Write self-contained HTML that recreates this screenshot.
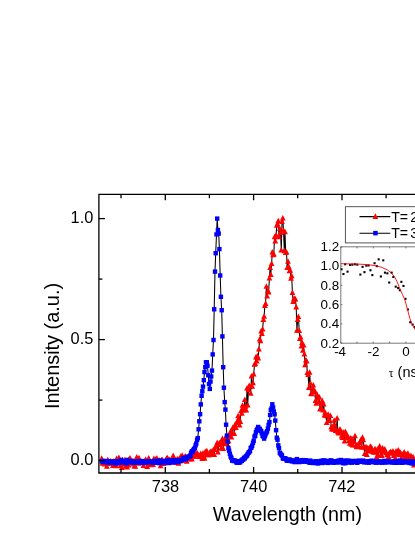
<!DOCTYPE html>
<html><head><meta charset="utf-8"><title>Spectrum</title>
<style>
html,body{margin:0;padding:0;background:#fff;}
body{width:415px;height:537px;overflow:hidden;}
svg{display:block;font-family:"Liberation Sans",sans-serif;will-change:transform;}
</style></head><body>
<svg width="415" height="537" viewBox="0 0 415 537">
<rect width="415" height="537" fill="#fff"/>
<g id="red">
<polyline points="101.7,458.4 102.5,463.4 103.2,462.2 104.0,461.3 104.7,464.1 105.5,462.3 106.2,462.3 106.9,466.3 107.7,459.9 108.4,460.9 109.2,463.7 109.9,462.7 110.7,461.1 111.4,462.9 112.2,462.8 112.9,465.6 113.6,461.0 114.4,462.0 115.1,461.6 115.9,465.8 116.6,458.5 117.4,461.9 118.1,463.2 118.9,457.6 119.6,462.4 120.4,465.6 121.1,463.2 121.8,467.5 122.6,459.8 123.3,463.2 124.1,464.0 124.8,459.8 125.6,466.0 126.3,461.0 127.1,467.0 127.8,463.8 128.5,465.0 129.3,458.9 130.0,458.2 130.8,463.0 131.5,460.3 132.3,462.6 133.0,460.9 133.8,464.0 134.5,466.1 135.3,466.4 136.0,461.3 136.7,457.0 137.5,461.6 138.2,463.4 139.0,457.8 139.7,461.7 140.5,462.0 141.2,461.6 142.0,462.5 142.7,462.9 143.4,465.5 144.2,461.0 144.9,462.4 145.7,459.4 146.4,463.0 147.2,466.5 147.9,462.4 148.7,458.2 149.4,463.0 150.2,464.1 150.9,464.8 151.6,464.5 152.4,462.7 153.1,464.7 153.9,458.5 154.6,462.6 155.4,461.7 156.1,458.6 156.9,458.4 157.6,462.3 158.3,461.0 159.1,460.1 159.8,462.2 160.6,465.8 161.3,460.1 162.1,459.6 162.8,460.6 163.6,463.7 164.3,461.9 165.1,462.8 165.8,462.1 166.5,458.4 167.3,457.8 168.0,459.7 168.8,459.9 169.5,459.6 170.3,461.1 171.0,461.1 171.8,462.4 172.5,460.9 173.2,455.5 174.0,458.6 174.7,461.3 175.5,461.5 176.2,462.3 177.0,459.4 177.7,459.2 178.5,463.3 179.2,458.8 180.0,461.1 180.7,456.3 181.4,459.1 182.2,455.3 182.9,460.3 183.7,459.7 184.4,458.1 185.2,456.1 185.9,457.1 186.7,461.3 187.4,457.6 188.1,457.8 188.9,458.7 189.6,459.1 190.4,452.9 191.1,458.0 191.9,459.0 192.6,455.0 193.4,456.1 194.1,456.4 194.9,454.0 195.6,454.5 196.3,454.6 197.1,452.8 197.8,454.4 198.6,456.5 199.3,455.6 200.1,455.8 200.8,453.6 201.6,456.8 202.3,458.7 203.0,453.2 203.8,456.9 204.5,458.3 205.3,451.7 206.0,454.5 206.8,450.9 207.5,453.5 208.3,454.8 209.0,454.9 209.8,452.6 210.5,451.6 211.2,452.9 212.0,451.1 212.7,454.4 213.5,449.6 214.2,454.5 215.0,449.5 215.7,446.6 216.5,445.0 217.2,442.7 217.9,452.1 218.7,444.7 219.4,442.9 220.2,443.1 220.9,448.4 221.7,443.7 222.4,438.6 223.2,448.5 223.9,441.6 224.7,438.9 225.4,443.9 226.1,438.9 226.9,443.5 227.6,441.7 228.4,440.8 229.1,436.3 229.9,436.2 230.6,431.4 231.4,437.0 232.1,432.9 232.8,427.7 233.6,427.9 234.3,433.6 235.1,424.6 235.8,427.5 236.6,422.6 237.3,421.3 238.1,415.9 238.8,418.7 239.6,425.1 240.3,421.5 241.0,410.8 241.8,413.3 242.5,405.4 243.3,407.3 244.0,410.1 244.8,399.7 245.5,406.4 246.3,410.2 247.0,388.2 247.7,405.0 248.5,389.9 249.2,385.6 250.0,386.7 250.7,393.4 251.5,376.1 252.2,386.3 253.0,382.8 253.7,374.2 254.5,364.4 255.2,363.7 255.9,357.2 256.7,361.1 257.4,355.8 258.2,358.0 258.9,349.0 259.7,339.1 260.4,340.8 261.2,331.2 261.9,333.7 262.6,329.1 263.4,319.7 264.1,316.4 264.9,305.5 265.6,303.5 266.4,286.4 267.1,296.2 267.9,290.9 268.6,292.1 269.4,278.2 270.1,267.5 270.8,274.5 271.6,263.6 272.3,252.0 273.1,254.9 273.8,254.2 274.6,236.9 275.3,241.2 276.1,235.1 276.8,225.4 277.5,223.8 278.3,220.9 279.0,236.8 279.8,228.5 280.5,232.6 281.3,250.2 282.0,221.6 282.8,218.0 283.5,230.4 284.3,250.9 285.0,231.8 285.7,252.7 286.5,252.1 287.2,267.7 288.0,261.3 288.7,266.5 289.5,270.8 290.2,270.3 291.0,278.3 291.7,275.9 292.4,292.6 293.2,301.7 293.9,298.8 294.7,298.7 295.4,299.0 296.2,307.1 296.9,330.4 297.7,319.7 298.4,316.7 299.2,330.7 299.9,338.7 300.6,337.1 301.4,346.2 302.1,342.6 302.9,350.4 303.6,345.2 304.4,354.2 305.1,364.8 305.9,360.1 306.6,361.1 307.3,372.6 308.1,374.5 308.8,387.5 309.6,372.4 310.3,383.0 311.1,393.6 311.8,393.9 312.6,388.1 313.3,385.2 314.1,391.7 314.8,390.9 315.5,400.5 316.3,403.4 317.0,394.3 317.8,397.8 318.5,401.8 319.3,397.2 320.0,409.0 320.8,408.0 321.5,402.8 322.2,400.6 323.0,410.1 323.7,404.0 324.5,415.2 325.2,412.4 326.0,415.7 326.7,422.7 327.5,416.1 328.2,414.3 329.0,419.8 329.7,420.5 330.4,415.5 331.2,427.1 331.9,429.0 332.7,426.5 333.4,429.4 334.2,420.4 334.9,425.3 335.7,430.5 336.4,430.4 337.1,418.0 337.9,431.8 338.6,433.1 339.4,429.8 340.1,429.3 340.9,431.5 341.6,436.2 342.4,437.7 343.1,432.0 343.9,434.9 344.6,441.0 345.3,431.7 346.1,433.7 346.8,437.7 347.6,438.2 348.3,437.0 349.1,440.6 349.8,443.3 350.6,438.1 351.3,444.4 352.0,438.7 352.8,445.2 353.5,441.1 354.3,441.6 355.0,435.8 355.8,445.4 356.5,446.9 357.3,444.8 358.0,446.7 358.8,445.4 359.5,442.6 360.2,441.9 361.0,439.6 361.7,447.4 362.5,437.4 363.2,439.9 364.0,446.9 364.7,453.7 365.5,447.3 366.2,447.2 366.9,454.6 367.7,447.9 368.4,449.0 369.2,451.0 369.9,447.1 370.7,446.3 371.4,450.9 372.2,449.0 372.9,451.7 373.7,452.3 374.4,449.9 375.1,448.8 375.9,452.1 376.6,456.9 377.4,449.1 378.1,455.4 378.9,450.6 379.6,446.0 380.4,451.2 381.1,454.7 381.8,455.5 382.6,448.2 383.3,451.7 384.1,450.2 384.8,449.2 385.6,452.1 386.3,452.9 387.1,454.8 387.8,460.8 388.6,456.6 389.3,452.7 390.0,453.1 390.8,451.6 391.5,453.2 392.3,452.6 393.0,451.0 393.8,455.7 394.5,454.3 395.3,458.0 396.0,451.2 396.7,453.9 397.5,452.8 398.2,450.2 399.0,451.6 399.7,454.8 400.5,452.7 401.2,458.8 402.0,454.0 402.7,455.0 403.5,459.7 404.2,452.2 404.9,457.7 405.7,454.3 406.4,457.4 407.2,454.0 407.9,453.4 408.7,459.0 409.4,461.0 410.2,457.7 410.9,455.5 411.6,458.7 412.4,459.5 413.1,456.9 413.9,465.0 414.6,460.0 415.4,461.9 416.1,458.0" fill="none" stroke="#000" stroke-width="1.05"/>
<g fill="#ff0000"><path d="M101.7 455.3l2.9 5.5h-5.8z"/><path d="M102.5 460.3l2.9 5.5h-5.8z"/><path d="M103.2 459.1l2.9 5.5h-5.8z"/><path d="M104.0 458.2l2.9 5.5h-5.8z"/><path d="M104.7 461.0l2.9 5.5h-5.8z"/><path d="M105.5 459.2l2.9 5.5h-5.8z"/><path d="M106.2 459.2l2.9 5.5h-5.8z"/><path d="M106.9 463.2l2.9 5.5h-5.8z"/><path d="M107.7 456.8l2.9 5.5h-5.8z"/><path d="M108.4 457.8l2.9 5.5h-5.8z"/><path d="M109.2 460.6l2.9 5.5h-5.8z"/><path d="M109.9 459.6l2.9 5.5h-5.8z"/><path d="M110.7 458.0l2.9 5.5h-5.8z"/><path d="M111.4 459.8l2.9 5.5h-5.8z"/><path d="M112.2 459.7l2.9 5.5h-5.8z"/><path d="M112.9 462.5l2.9 5.5h-5.8z"/><path d="M113.6 457.9l2.9 5.5h-5.8z"/><path d="M114.4 458.9l2.9 5.5h-5.8z"/><path d="M115.1 458.5l2.9 5.5h-5.8z"/><path d="M115.9 462.7l2.9 5.5h-5.8z"/><path d="M116.6 455.4l2.9 5.5h-5.8z"/><path d="M117.4 458.8l2.9 5.5h-5.8z"/><path d="M118.1 460.1l2.9 5.5h-5.8z"/><path d="M118.9 454.5l2.9 5.5h-5.8z"/><path d="M119.6 459.3l2.9 5.5h-5.8z"/><path d="M120.4 462.5l2.9 5.5h-5.8z"/><path d="M121.1 460.1l2.9 5.5h-5.8z"/><path d="M121.8 464.4l2.9 5.5h-5.8z"/><path d="M122.6 456.7l2.9 5.5h-5.8z"/><path d="M123.3 460.1l2.9 5.5h-5.8z"/><path d="M124.1 460.9l2.9 5.5h-5.8z"/><path d="M124.8 456.7l2.9 5.5h-5.8z"/><path d="M125.6 462.9l2.9 5.5h-5.8z"/><path d="M126.3 457.9l2.9 5.5h-5.8z"/><path d="M127.1 463.9l2.9 5.5h-5.8z"/><path d="M127.8 460.7l2.9 5.5h-5.8z"/><path d="M128.5 461.9l2.9 5.5h-5.8z"/><path d="M129.3 455.8l2.9 5.5h-5.8z"/><path d="M130.0 455.1l2.9 5.5h-5.8z"/><path d="M130.8 459.9l2.9 5.5h-5.8z"/><path d="M131.5 457.2l2.9 5.5h-5.8z"/><path d="M132.3 459.5l2.9 5.5h-5.8z"/><path d="M133.0 457.8l2.9 5.5h-5.8z"/><path d="M133.8 460.9l2.9 5.5h-5.8z"/><path d="M134.5 463.0l2.9 5.5h-5.8z"/><path d="M135.3 463.3l2.9 5.5h-5.8z"/><path d="M136.0 458.2l2.9 5.5h-5.8z"/><path d="M136.7 453.9l2.9 5.5h-5.8z"/><path d="M137.5 458.5l2.9 5.5h-5.8z"/><path d="M138.2 460.3l2.9 5.5h-5.8z"/><path d="M139.0 454.7l2.9 5.5h-5.8z"/><path d="M139.7 458.6l2.9 5.5h-5.8z"/><path d="M140.5 458.9l2.9 5.5h-5.8z"/><path d="M141.2 458.5l2.9 5.5h-5.8z"/><path d="M142.0 459.4l2.9 5.5h-5.8z"/><path d="M142.7 459.8l2.9 5.5h-5.8z"/><path d="M143.4 462.4l2.9 5.5h-5.8z"/><path d="M144.2 457.9l2.9 5.5h-5.8z"/><path d="M144.9 459.3l2.9 5.5h-5.8z"/><path d="M145.7 456.3l2.9 5.5h-5.8z"/><path d="M146.4 459.9l2.9 5.5h-5.8z"/><path d="M147.2 463.4l2.9 5.5h-5.8z"/><path d="M147.9 459.3l2.9 5.5h-5.8z"/><path d="M148.7 455.1l2.9 5.5h-5.8z"/><path d="M149.4 459.9l2.9 5.5h-5.8z"/><path d="M150.2 461.0l2.9 5.5h-5.8z"/><path d="M150.9 461.7l2.9 5.5h-5.8z"/><path d="M151.6 461.4l2.9 5.5h-5.8z"/><path d="M152.4 459.6l2.9 5.5h-5.8z"/><path d="M153.1 461.6l2.9 5.5h-5.8z"/><path d="M153.9 455.4l2.9 5.5h-5.8z"/><path d="M154.6 459.5l2.9 5.5h-5.8z"/><path d="M155.4 458.6l2.9 5.5h-5.8z"/><path d="M156.1 455.5l2.9 5.5h-5.8z"/><path d="M156.9 455.3l2.9 5.5h-5.8z"/><path d="M157.6 459.2l2.9 5.5h-5.8z"/><path d="M158.3 457.9l2.9 5.5h-5.8z"/><path d="M159.1 457.0l2.9 5.5h-5.8z"/><path d="M159.8 459.1l2.9 5.5h-5.8z"/><path d="M160.6 462.7l2.9 5.5h-5.8z"/><path d="M161.3 457.0l2.9 5.5h-5.8z"/><path d="M162.1 456.5l2.9 5.5h-5.8z"/><path d="M162.8 457.5l2.9 5.5h-5.8z"/><path d="M163.6 460.6l2.9 5.5h-5.8z"/><path d="M164.3 458.8l2.9 5.5h-5.8z"/><path d="M165.1 459.7l2.9 5.5h-5.8z"/><path d="M165.8 459.0l2.9 5.5h-5.8z"/><path d="M166.5 455.3l2.9 5.5h-5.8z"/><path d="M167.3 454.7l2.9 5.5h-5.8z"/><path d="M168.0 456.6l2.9 5.5h-5.8z"/><path d="M168.8 456.8l2.9 5.5h-5.8z"/><path d="M169.5 456.5l2.9 5.5h-5.8z"/><path d="M170.3 458.0l2.9 5.5h-5.8z"/><path d="M171.0 458.0l2.9 5.5h-5.8z"/><path d="M171.8 459.3l2.9 5.5h-5.8z"/><path d="M172.5 457.8l2.9 5.5h-5.8z"/><path d="M173.2 452.4l2.9 5.5h-5.8z"/><path d="M174.0 455.5l2.9 5.5h-5.8z"/><path d="M174.7 458.2l2.9 5.5h-5.8z"/><path d="M175.5 458.4l2.9 5.5h-5.8z"/><path d="M176.2 459.2l2.9 5.5h-5.8z"/><path d="M177.0 456.3l2.9 5.5h-5.8z"/><path d="M177.7 456.1l2.9 5.5h-5.8z"/><path d="M178.5 460.2l2.9 5.5h-5.8z"/><path d="M179.2 455.7l2.9 5.5h-5.8z"/><path d="M180.0 458.0l2.9 5.5h-5.8z"/><path d="M180.7 453.2l2.9 5.5h-5.8z"/><path d="M181.4 456.0l2.9 5.5h-5.8z"/><path d="M182.2 452.2l2.9 5.5h-5.8z"/><path d="M182.9 457.2l2.9 5.5h-5.8z"/><path d="M183.7 456.6l2.9 5.5h-5.8z"/><path d="M184.4 455.0l2.9 5.5h-5.8z"/><path d="M185.2 453.0l2.9 5.5h-5.8z"/><path d="M185.9 454.0l2.9 5.5h-5.8z"/><path d="M186.7 458.2l2.9 5.5h-5.8z"/><path d="M187.4 454.5l2.9 5.5h-5.8z"/><path d="M188.1 454.7l2.9 5.5h-5.8z"/><path d="M188.9 455.6l2.9 5.5h-5.8z"/><path d="M189.6 456.0l2.9 5.5h-5.8z"/><path d="M190.4 449.8l2.9 5.5h-5.8z"/><path d="M191.1 454.9l2.9 5.5h-5.8z"/><path d="M191.9 455.9l2.9 5.5h-5.8z"/><path d="M192.6 451.9l2.9 5.5h-5.8z"/><path d="M193.4 453.0l2.9 5.5h-5.8z"/><path d="M194.1 453.3l2.9 5.5h-5.8z"/><path d="M194.9 450.9l2.9 5.5h-5.8z"/><path d="M195.6 451.4l2.9 5.5h-5.8z"/><path d="M196.3 451.5l2.9 5.5h-5.8z"/><path d="M197.1 449.7l2.9 5.5h-5.8z"/><path d="M197.8 451.3l2.9 5.5h-5.8z"/><path d="M198.6 453.4l2.9 5.5h-5.8z"/><path d="M199.3 452.5l2.9 5.5h-5.8z"/><path d="M200.1 452.7l2.9 5.5h-5.8z"/><path d="M200.8 450.5l2.9 5.5h-5.8z"/><path d="M201.6 453.7l2.9 5.5h-5.8z"/><path d="M202.3 455.6l2.9 5.5h-5.8z"/><path d="M203.0 450.1l2.9 5.5h-5.8z"/><path d="M203.8 453.8l2.9 5.5h-5.8z"/><path d="M204.5 455.2l2.9 5.5h-5.8z"/><path d="M205.3 448.6l2.9 5.5h-5.8z"/><path d="M206.0 451.4l2.9 5.5h-5.8z"/><path d="M206.8 447.8l2.9 5.5h-5.8z"/><path d="M207.5 450.4l2.9 5.5h-5.8z"/><path d="M208.3 451.7l2.9 5.5h-5.8z"/><path d="M209.0 451.8l2.9 5.5h-5.8z"/><path d="M209.8 449.5l2.9 5.5h-5.8z"/><path d="M210.5 448.5l2.9 5.5h-5.8z"/><path d="M211.2 449.8l2.9 5.5h-5.8z"/><path d="M212.0 448.0l2.9 5.5h-5.8z"/><path d="M212.7 451.3l2.9 5.5h-5.8z"/><path d="M213.5 446.5l2.9 5.5h-5.8z"/><path d="M214.2 451.4l2.9 5.5h-5.8z"/><path d="M215.0 446.4l2.9 5.5h-5.8z"/><path d="M215.7 443.5l2.9 5.5h-5.8z"/><path d="M216.5 441.9l2.9 5.5h-5.8z"/><path d="M217.2 439.6l2.9 5.5h-5.8z"/><path d="M217.9 449.0l2.9 5.5h-5.8z"/><path d="M218.7 441.6l2.9 5.5h-5.8z"/><path d="M219.4 439.8l2.9 5.5h-5.8z"/><path d="M220.2 440.0l2.9 5.5h-5.8z"/><path d="M220.9 445.3l2.9 5.5h-5.8z"/><path d="M221.7 440.6l2.9 5.5h-5.8z"/><path d="M222.4 435.5l2.9 5.5h-5.8z"/><path d="M223.2 445.4l2.9 5.5h-5.8z"/><path d="M223.9 438.5l2.9 5.5h-5.8z"/><path d="M224.7 435.8l2.9 5.5h-5.8z"/><path d="M225.4 440.8l2.9 5.5h-5.8z"/><path d="M226.1 435.8l2.9 5.5h-5.8z"/><path d="M226.9 440.4l2.9 5.5h-5.8z"/><path d="M227.6 438.6l2.9 5.5h-5.8z"/><path d="M228.4 437.7l2.9 5.5h-5.8z"/><path d="M229.1 433.2l2.9 5.5h-5.8z"/><path d="M229.9 433.1l2.9 5.5h-5.8z"/><path d="M230.6 428.3l2.9 5.5h-5.8z"/><path d="M231.4 433.9l2.9 5.5h-5.8z"/><path d="M232.1 429.8l2.9 5.5h-5.8z"/><path d="M232.8 424.6l2.9 5.5h-5.8z"/><path d="M233.6 424.8l2.9 5.5h-5.8z"/><path d="M234.3 430.5l2.9 5.5h-5.8z"/><path d="M235.1 421.5l2.9 5.5h-5.8z"/><path d="M235.8 424.4l2.9 5.5h-5.8z"/><path d="M236.6 419.5l2.9 5.5h-5.8z"/><path d="M237.3 418.2l2.9 5.5h-5.8z"/><path d="M238.1 412.8l2.9 5.5h-5.8z"/><path d="M238.8 415.6l2.9 5.5h-5.8z"/><path d="M239.6 422.0l2.9 5.5h-5.8z"/><path d="M240.3 418.4l2.9 5.5h-5.8z"/><path d="M241.0 407.7l2.9 5.5h-5.8z"/><path d="M241.8 410.2l2.9 5.5h-5.8z"/><path d="M242.5 402.3l2.9 5.5h-5.8z"/><path d="M243.3 404.2l2.9 5.5h-5.8z"/><path d="M244.0 407.0l2.9 5.5h-5.8z"/><path d="M244.8 396.6l2.9 5.5h-5.8z"/><path d="M245.5 403.3l2.9 5.5h-5.8z"/><path d="M246.3 407.1l2.9 5.5h-5.8z"/><path d="M247.0 385.1l2.9 5.5h-5.8z"/><path d="M247.7 401.9l2.9 5.5h-5.8z"/><path d="M248.5 386.8l2.9 5.5h-5.8z"/><path d="M249.2 382.5l2.9 5.5h-5.8z"/><path d="M250.0 383.6l2.9 5.5h-5.8z"/><path d="M250.7 390.3l2.9 5.5h-5.8z"/><path d="M251.5 373.0l2.9 5.5h-5.8z"/><path d="M252.2 383.2l2.9 5.5h-5.8z"/><path d="M253.0 379.7l2.9 5.5h-5.8z"/><path d="M253.7 371.1l2.9 5.5h-5.8z"/><path d="M254.5 361.3l2.9 5.5h-5.8z"/><path d="M255.2 360.6l2.9 5.5h-5.8z"/><path d="M255.9 354.1l2.9 5.5h-5.8z"/><path d="M256.7 358.0l2.9 5.5h-5.8z"/><path d="M257.4 352.7l2.9 5.5h-5.8z"/><path d="M258.2 354.9l2.9 5.5h-5.8z"/><path d="M258.9 345.9l2.9 5.5h-5.8z"/><path d="M259.7 336.0l2.9 5.5h-5.8z"/><path d="M260.4 337.7l2.9 5.5h-5.8z"/><path d="M261.2 328.1l2.9 5.5h-5.8z"/><path d="M261.9 330.6l2.9 5.5h-5.8z"/><path d="M262.6 326.0l2.9 5.5h-5.8z"/><path d="M263.4 316.6l2.9 5.5h-5.8z"/><path d="M264.1 313.3l2.9 5.5h-5.8z"/><path d="M264.9 302.4l2.9 5.5h-5.8z"/><path d="M265.6 300.4l2.9 5.5h-5.8z"/><path d="M266.4 283.3l2.9 5.5h-5.8z"/><path d="M267.1 293.1l2.9 5.5h-5.8z"/><path d="M267.9 287.8l2.9 5.5h-5.8z"/><path d="M268.6 289.0l2.9 5.5h-5.8z"/><path d="M269.4 275.1l2.9 5.5h-5.8z"/><path d="M270.1 264.4l2.9 5.5h-5.8z"/><path d="M270.8 271.4l2.9 5.5h-5.8z"/><path d="M271.6 260.5l2.9 5.5h-5.8z"/><path d="M272.3 248.9l2.9 5.5h-5.8z"/><path d="M273.1 251.8l2.9 5.5h-5.8z"/><path d="M273.8 251.1l2.9 5.5h-5.8z"/><path d="M274.6 233.8l2.9 5.5h-5.8z"/><path d="M275.3 238.1l2.9 5.5h-5.8z"/><path d="M276.1 232.0l2.9 5.5h-5.8z"/><path d="M276.8 222.3l2.9 5.5h-5.8z"/><path d="M277.5 220.7l2.9 5.5h-5.8z"/><path d="M278.3 217.8l2.9 5.5h-5.8z"/><path d="M279.0 233.7l2.9 5.5h-5.8z"/><path d="M279.8 225.4l2.9 5.5h-5.8z"/><path d="M280.5 229.5l2.9 5.5h-5.8z"/><path d="M281.3 247.1l2.9 5.5h-5.8z"/><path d="M282.0 218.5l2.9 5.5h-5.8z"/><path d="M282.8 214.9l2.9 5.5h-5.8z"/><path d="M283.5 227.3l2.9 5.5h-5.8z"/><path d="M284.3 247.8l2.9 5.5h-5.8z"/><path d="M285.0 228.7l2.9 5.5h-5.8z"/><path d="M285.7 249.6l2.9 5.5h-5.8z"/><path d="M286.5 249.0l2.9 5.5h-5.8z"/><path d="M287.2 264.6l2.9 5.5h-5.8z"/><path d="M288.0 258.2l2.9 5.5h-5.8z"/><path d="M288.7 263.4l2.9 5.5h-5.8z"/><path d="M289.5 267.7l2.9 5.5h-5.8z"/><path d="M290.2 267.2l2.9 5.5h-5.8z"/><path d="M291.0 275.2l2.9 5.5h-5.8z"/><path d="M291.7 272.8l2.9 5.5h-5.8z"/><path d="M292.4 289.5l2.9 5.5h-5.8z"/><path d="M293.2 298.6l2.9 5.5h-5.8z"/><path d="M293.9 295.7l2.9 5.5h-5.8z"/><path d="M294.7 295.6l2.9 5.5h-5.8z"/><path d="M295.4 295.9l2.9 5.5h-5.8z"/><path d="M296.2 304.0l2.9 5.5h-5.8z"/><path d="M296.9 327.3l2.9 5.5h-5.8z"/><path d="M297.7 316.6l2.9 5.5h-5.8z"/><path d="M298.4 313.6l2.9 5.5h-5.8z"/><path d="M299.2 327.6l2.9 5.5h-5.8z"/><path d="M299.9 335.6l2.9 5.5h-5.8z"/><path d="M300.6 334.0l2.9 5.5h-5.8z"/><path d="M301.4 343.1l2.9 5.5h-5.8z"/><path d="M302.1 339.5l2.9 5.5h-5.8z"/><path d="M302.9 347.3l2.9 5.5h-5.8z"/><path d="M303.6 342.1l2.9 5.5h-5.8z"/><path d="M304.4 351.1l2.9 5.5h-5.8z"/><path d="M305.1 361.7l2.9 5.5h-5.8z"/><path d="M305.9 357.0l2.9 5.5h-5.8z"/><path d="M306.6 358.0l2.9 5.5h-5.8z"/><path d="M307.3 369.5l2.9 5.5h-5.8z"/><path d="M308.1 371.4l2.9 5.5h-5.8z"/><path d="M308.8 384.4l2.9 5.5h-5.8z"/><path d="M309.6 369.3l2.9 5.5h-5.8z"/><path d="M310.3 379.9l2.9 5.5h-5.8z"/><path d="M311.1 390.5l2.9 5.5h-5.8z"/><path d="M311.8 390.8l2.9 5.5h-5.8z"/><path d="M312.6 385.0l2.9 5.5h-5.8z"/><path d="M313.3 382.1l2.9 5.5h-5.8z"/><path d="M314.1 388.6l2.9 5.5h-5.8z"/><path d="M314.8 387.8l2.9 5.5h-5.8z"/><path d="M315.5 397.4l2.9 5.5h-5.8z"/><path d="M316.3 400.3l2.9 5.5h-5.8z"/><path d="M317.0 391.2l2.9 5.5h-5.8z"/><path d="M317.8 394.7l2.9 5.5h-5.8z"/><path d="M318.5 398.7l2.9 5.5h-5.8z"/><path d="M319.3 394.1l2.9 5.5h-5.8z"/><path d="M320.0 405.9l2.9 5.5h-5.8z"/><path d="M320.8 404.9l2.9 5.5h-5.8z"/><path d="M321.5 399.7l2.9 5.5h-5.8z"/><path d="M322.2 397.5l2.9 5.5h-5.8z"/><path d="M323.0 407.0l2.9 5.5h-5.8z"/><path d="M323.7 400.9l2.9 5.5h-5.8z"/><path d="M324.5 412.1l2.9 5.5h-5.8z"/><path d="M325.2 409.3l2.9 5.5h-5.8z"/><path d="M326.0 412.6l2.9 5.5h-5.8z"/><path d="M326.7 419.6l2.9 5.5h-5.8z"/><path d="M327.5 413.0l2.9 5.5h-5.8z"/><path d="M328.2 411.2l2.9 5.5h-5.8z"/><path d="M329.0 416.7l2.9 5.5h-5.8z"/><path d="M329.7 417.4l2.9 5.5h-5.8z"/><path d="M330.4 412.4l2.9 5.5h-5.8z"/><path d="M331.2 424.0l2.9 5.5h-5.8z"/><path d="M331.9 425.9l2.9 5.5h-5.8z"/><path d="M332.7 423.4l2.9 5.5h-5.8z"/><path d="M333.4 426.3l2.9 5.5h-5.8z"/><path d="M334.2 417.3l2.9 5.5h-5.8z"/><path d="M334.9 422.2l2.9 5.5h-5.8z"/><path d="M335.7 427.4l2.9 5.5h-5.8z"/><path d="M336.4 427.3l2.9 5.5h-5.8z"/><path d="M337.1 414.9l2.9 5.5h-5.8z"/><path d="M337.9 428.7l2.9 5.5h-5.8z"/><path d="M338.6 430.0l2.9 5.5h-5.8z"/><path d="M339.4 426.7l2.9 5.5h-5.8z"/><path d="M340.1 426.2l2.9 5.5h-5.8z"/><path d="M340.9 428.4l2.9 5.5h-5.8z"/><path d="M341.6 433.1l2.9 5.5h-5.8z"/><path d="M342.4 434.6l2.9 5.5h-5.8z"/><path d="M343.1 428.9l2.9 5.5h-5.8z"/><path d="M343.9 431.8l2.9 5.5h-5.8z"/><path d="M344.6 437.9l2.9 5.5h-5.8z"/><path d="M345.3 428.6l2.9 5.5h-5.8z"/><path d="M346.1 430.6l2.9 5.5h-5.8z"/><path d="M346.8 434.6l2.9 5.5h-5.8z"/><path d="M347.6 435.1l2.9 5.5h-5.8z"/><path d="M348.3 433.9l2.9 5.5h-5.8z"/><path d="M349.1 437.5l2.9 5.5h-5.8z"/><path d="M349.8 440.2l2.9 5.5h-5.8z"/><path d="M350.6 435.0l2.9 5.5h-5.8z"/><path d="M351.3 441.3l2.9 5.5h-5.8z"/><path d="M352.0 435.6l2.9 5.5h-5.8z"/><path d="M352.8 442.1l2.9 5.5h-5.8z"/><path d="M353.5 438.0l2.9 5.5h-5.8z"/><path d="M354.3 438.5l2.9 5.5h-5.8z"/><path d="M355.0 432.7l2.9 5.5h-5.8z"/><path d="M355.8 442.3l2.9 5.5h-5.8z"/><path d="M356.5 443.8l2.9 5.5h-5.8z"/><path d="M357.3 441.7l2.9 5.5h-5.8z"/><path d="M358.0 443.6l2.9 5.5h-5.8z"/><path d="M358.8 442.3l2.9 5.5h-5.8z"/><path d="M359.5 439.5l2.9 5.5h-5.8z"/><path d="M360.2 438.8l2.9 5.5h-5.8z"/><path d="M361.0 436.5l2.9 5.5h-5.8z"/><path d="M361.7 444.3l2.9 5.5h-5.8z"/><path d="M362.5 434.3l2.9 5.5h-5.8z"/><path d="M363.2 436.8l2.9 5.5h-5.8z"/><path d="M364.0 443.8l2.9 5.5h-5.8z"/><path d="M364.7 450.6l2.9 5.5h-5.8z"/><path d="M365.5 444.2l2.9 5.5h-5.8z"/><path d="M366.2 444.1l2.9 5.5h-5.8z"/><path d="M366.9 451.5l2.9 5.5h-5.8z"/><path d="M367.7 444.8l2.9 5.5h-5.8z"/><path d="M368.4 445.9l2.9 5.5h-5.8z"/><path d="M369.2 447.9l2.9 5.5h-5.8z"/><path d="M369.9 444.0l2.9 5.5h-5.8z"/><path d="M370.7 443.2l2.9 5.5h-5.8z"/><path d="M371.4 447.8l2.9 5.5h-5.8z"/><path d="M372.2 445.9l2.9 5.5h-5.8z"/><path d="M372.9 448.6l2.9 5.5h-5.8z"/><path d="M373.7 449.2l2.9 5.5h-5.8z"/><path d="M374.4 446.8l2.9 5.5h-5.8z"/><path d="M375.1 445.7l2.9 5.5h-5.8z"/><path d="M375.9 449.0l2.9 5.5h-5.8z"/><path d="M376.6 453.8l2.9 5.5h-5.8z"/><path d="M377.4 446.0l2.9 5.5h-5.8z"/><path d="M378.1 452.3l2.9 5.5h-5.8z"/><path d="M378.9 447.5l2.9 5.5h-5.8z"/><path d="M379.6 442.9l2.9 5.5h-5.8z"/><path d="M380.4 448.1l2.9 5.5h-5.8z"/><path d="M381.1 451.6l2.9 5.5h-5.8z"/><path d="M381.8 452.4l2.9 5.5h-5.8z"/><path d="M382.6 445.1l2.9 5.5h-5.8z"/><path d="M383.3 448.6l2.9 5.5h-5.8z"/><path d="M384.1 447.1l2.9 5.5h-5.8z"/><path d="M384.8 446.1l2.9 5.5h-5.8z"/><path d="M385.6 449.0l2.9 5.5h-5.8z"/><path d="M386.3 449.8l2.9 5.5h-5.8z"/><path d="M387.1 451.7l2.9 5.5h-5.8z"/><path d="M387.8 457.7l2.9 5.5h-5.8z"/><path d="M388.6 453.5l2.9 5.5h-5.8z"/><path d="M389.3 449.6l2.9 5.5h-5.8z"/><path d="M390.0 450.0l2.9 5.5h-5.8z"/><path d="M390.8 448.5l2.9 5.5h-5.8z"/><path d="M391.5 450.1l2.9 5.5h-5.8z"/><path d="M392.3 449.5l2.9 5.5h-5.8z"/><path d="M393.0 447.9l2.9 5.5h-5.8z"/><path d="M393.8 452.6l2.9 5.5h-5.8z"/><path d="M394.5 451.2l2.9 5.5h-5.8z"/><path d="M395.3 454.9l2.9 5.5h-5.8z"/><path d="M396.0 448.1l2.9 5.5h-5.8z"/><path d="M396.7 450.8l2.9 5.5h-5.8z"/><path d="M397.5 449.7l2.9 5.5h-5.8z"/><path d="M398.2 447.1l2.9 5.5h-5.8z"/><path d="M399.0 448.5l2.9 5.5h-5.8z"/><path d="M399.7 451.7l2.9 5.5h-5.8z"/><path d="M400.5 449.6l2.9 5.5h-5.8z"/><path d="M401.2 455.7l2.9 5.5h-5.8z"/><path d="M402.0 450.9l2.9 5.5h-5.8z"/><path d="M402.7 451.9l2.9 5.5h-5.8z"/><path d="M403.5 456.6l2.9 5.5h-5.8z"/><path d="M404.2 449.1l2.9 5.5h-5.8z"/><path d="M404.9 454.6l2.9 5.5h-5.8z"/><path d="M405.7 451.2l2.9 5.5h-5.8z"/><path d="M406.4 454.3l2.9 5.5h-5.8z"/><path d="M407.2 450.9l2.9 5.5h-5.8z"/><path d="M407.9 450.3l2.9 5.5h-5.8z"/><path d="M408.7 455.9l2.9 5.5h-5.8z"/><path d="M409.4 457.9l2.9 5.5h-5.8z"/><path d="M410.2 454.6l2.9 5.5h-5.8z"/><path d="M410.9 452.4l2.9 5.5h-5.8z"/><path d="M411.6 455.6l2.9 5.5h-5.8z"/><path d="M412.4 456.4l2.9 5.5h-5.8z"/><path d="M413.1 453.8l2.9 5.5h-5.8z"/><path d="M413.9 461.9l2.9 5.5h-5.8z"/><path d="M414.6 456.9l2.9 5.5h-5.8z"/><path d="M415.4 458.8l2.9 5.5h-5.8z"/><path d="M416.1 454.9l2.9 5.5h-5.8z"/></g>
</g>
<g id="blue">
<polyline points="101.7,461.4 102.5,461.2 103.2,461.7 104.0,460.9 104.7,462.0 105.5,461.5 106.2,461.7 106.9,461.5 107.7,462.7 108.4,461.9 109.2,462.4 109.9,462.4 110.7,461.4 111.4,462.4 112.2,462.3 112.9,462.2 113.6,461.7 114.4,461.7 115.1,462.6 115.9,463.6 116.6,461.4 117.4,462.4 118.1,461.7 118.9,462.6 119.6,462.3 120.4,462.8 121.1,459.9 121.8,461.5 122.6,461.3 123.3,461.9 124.1,461.5 124.8,461.5 125.6,462.5 126.3,463.4 127.1,459.9 127.8,461.8 128.5,462.2 129.3,462.0 130.0,461.7 130.8,461.0 131.5,461.3 132.3,462.5 133.0,462.8 133.8,462.1 134.5,461.4 135.3,462.1 136.0,461.8 136.7,462.4 137.5,462.1 138.2,461.5 139.0,462.1 139.7,461.1 140.5,462.6 141.2,462.9 142.0,461.1 142.7,462.3 143.4,461.3 144.2,462.8 144.9,462.7 145.7,461.8 146.4,462.7 147.2,461.7 147.9,461.5 148.7,461.6 149.4,461.9 150.2,461.8 150.9,462.1 151.6,461.5 152.4,462.5 153.1,462.7 153.9,461.6 154.6,460.9 155.4,462.5 156.1,462.8 156.9,461.8 157.6,461.0 158.3,462.1 159.1,463.1 159.8,460.5 160.6,462.3 161.3,461.7 162.1,461.2 162.8,462.2 163.6,460.9 164.3,462.1 165.1,462.8 165.8,462.0 166.5,461.2 167.3,460.5 168.0,460.9 168.8,460.4 169.5,463.0 170.3,461.6 171.0,460.9 171.8,460.6 172.5,460.7 173.2,461.1 174.0,460.3 174.7,462.4 175.5,460.5 176.2,460.4 177.0,461.1 177.7,461.9 178.5,461.7 179.2,460.2 180.0,460.7 180.7,460.4 181.4,460.4 182.2,459.9 182.9,458.7 183.7,458.2 184.4,459.0 185.2,457.7 185.9,459.3 186.7,458.0 187.4,456.9 188.1,457.2 188.9,456.8 189.6,456.3 190.4,455.9 191.1,452.8 191.9,451.3 192.6,451.7 193.4,450.0 194.1,449.0 194.9,448.0 195.6,445.3 196.3,443.6 197.1,439.8 197.8,438.1 198.6,429.3 199.3,421.3 200.1,414.2 200.8,404.4 201.6,395.8 202.3,391.3 203.0,386.6 203.8,380.2 204.5,372.1 205.3,367.2 206.0,362.3 206.8,362.3 207.5,365.8 208.3,375.3 209.0,384.0 209.8,388.9 210.5,381.6 211.2,376.5 212.0,370.6 212.7,354.4 213.5,340.0 214.2,309.3 215.0,271.6 215.7,253.2 216.5,234.4 217.2,218.6 217.9,230.0 218.7,233.6 219.4,249.1 220.2,275.5 220.9,296.8 221.7,310.2 222.4,336.4 223.2,367.2 223.9,387.7 224.7,402.1 225.4,409.6 226.1,424.7 226.9,435.6 227.6,441.4 228.4,448.0 229.1,450.7 229.9,453.8 230.6,456.5 231.4,457.9 232.1,460.6 232.8,460.2 233.6,461.0 234.3,460.6 235.1,460.7 235.8,461.3 236.6,462.7 237.3,461.2 238.1,462.7 238.8,462.7 239.6,461.2 240.3,462.3 241.0,460.7 241.8,460.9 242.5,459.4 243.3,459.7 244.0,457.8 244.8,458.4 245.5,457.0 246.3,456.1 247.0,455.5 247.7,454.1 248.5,452.7 249.2,452.2 250.0,451.1 250.7,447.9 251.5,447.5 252.2,445.7 253.0,442.8 253.7,440.8 254.5,436.5 255.2,435.8 255.9,432.3 256.7,430.2 257.4,428.9 258.2,427.0 258.9,428.8 259.7,428.9 260.4,430.5 261.2,431.2 261.9,433.4 262.6,435.8 263.4,436.6 264.1,438.6 264.9,436.3 265.6,434.3 266.4,432.6 267.1,431.3 267.9,428.6 268.6,424.9 269.4,422.0 270.1,415.0 270.8,410.0 271.6,408.4 272.3,404.3 273.1,407.4 273.8,411.5 274.6,414.3 275.3,420.6 276.1,430.2 276.8,437.7 277.5,439.7 278.3,445.4 279.0,448.1 279.8,452.7 280.5,453.7 281.3,454.7 282.0,455.5 282.8,458.2 283.5,458.7 284.3,458.5 285.0,458.2 285.7,458.8 286.5,460.2 287.2,460.6 288.0,460.7 288.7,460.6 289.5,459.4 290.2,460.9 291.0,460.2 291.7,461.0 292.4,461.4 293.2,460.7 293.9,460.5 294.7,462.1 295.4,461.7 296.2,460.9 296.9,459.1 297.7,461.3 298.4,461.7 299.2,462.1 299.9,460.7 300.6,460.7 301.4,460.8 302.1,461.7 302.9,460.1 303.6,461.0 304.4,460.5 305.1,461.5 305.9,460.2 306.6,461.7 307.3,461.2 308.1,461.5 308.8,462.1 309.6,462.7 310.3,460.6 311.1,462.7 311.8,462.3 312.6,461.7 313.3,463.0 314.1,462.0 314.8,462.9 315.5,461.5 316.3,461.2 317.0,462.8 317.8,463.5 318.5,462.4 319.3,462.6 320.0,461.5 320.8,460.9 321.5,461.7 322.2,463.0 323.0,460.5 323.7,461.5 324.5,460.5 325.2,462.0 326.0,462.6 326.7,461.0 327.5,461.6 328.2,462.9 329.0,461.8 329.7,461.0 330.4,460.9 331.2,460.4 331.9,462.4 332.7,461.3 333.4,462.6 334.2,462.5 334.9,461.3 335.7,461.4 336.4,462.4 337.1,461.9 337.9,461.9 338.6,460.5 339.4,462.4 340.1,461.0 340.9,460.0 341.6,461.2 342.4,462.0 343.1,463.2 343.9,461.3 344.6,460.6 345.3,463.2 346.1,461.7 346.8,461.4 347.6,460.7 348.3,460.8 349.1,462.6 349.8,461.3 350.6,461.1 351.3,461.1 352.0,462.7 352.8,461.1 353.5,462.0 354.3,461.8 355.0,461.8 355.8,460.9 356.5,462.1 357.3,462.8 358.0,461.6 358.8,461.0 359.5,460.7 360.2,461.8 361.0,461.5 361.7,461.6 362.5,461.7 363.2,460.6 364.0,462.3 364.7,461.9 365.5,461.7 366.2,461.9 366.9,462.5 367.7,461.8 368.4,461.2 369.2,462.7 369.9,461.5 370.7,461.3 371.4,460.7 372.2,461.9 372.9,461.1 373.7,461.5 374.4,462.2 375.1,461.9 375.9,462.7 376.6,462.2 377.4,461.7 378.1,461.7 378.9,461.6 379.6,462.5 380.4,462.0 381.1,461.7 381.8,462.6 382.6,462.1 383.3,461.7 384.1,460.9 384.8,462.4 385.6,462.2 386.3,462.1 387.1,461.7 387.8,461.4 388.6,461.9 389.3,462.2 390.0,462.0 390.8,461.9 391.5,461.7 392.3,462.3 393.0,462.2 393.8,461.5 394.5,462.6 395.3,462.7 396.0,462.7 396.7,462.0 397.5,461.9 398.2,461.2 399.0,462.7 399.7,460.5 400.5,461.8 401.2,461.9 402.0,462.8 402.7,462.1 403.5,461.4 404.2,461.1 404.9,461.6 405.7,462.2 406.4,462.2 407.2,462.0 407.9,461.6 408.7,462.0 409.4,462.9 410.2,461.3 410.9,462.2 411.6,463.4 412.4,462.6 413.1,461.8 413.9,462.7 414.6,461.6 415.4,462.2 416.1,463.3" fill="none" stroke="#000" stroke-width="1.05"/>
<g fill="#0000ff"><rect x="99.5" y="459.2" width="4.4" height="4.4"/><rect x="100.3" y="459.0" width="4.4" height="4.4"/><rect x="101.0" y="459.5" width="4.4" height="4.4"/><rect x="101.8" y="458.7" width="4.4" height="4.4"/><rect x="102.5" y="459.8" width="4.4" height="4.4"/><rect x="103.3" y="459.3" width="4.4" height="4.4"/><rect x="104.0" y="459.5" width="4.4" height="4.4"/><rect x="104.7" y="459.3" width="4.4" height="4.4"/><rect x="105.5" y="460.5" width="4.4" height="4.4"/><rect x="106.2" y="459.7" width="4.4" height="4.4"/><rect x="107.0" y="460.2" width="4.4" height="4.4"/><rect x="107.7" y="460.2" width="4.4" height="4.4"/><rect x="108.5" y="459.2" width="4.4" height="4.4"/><rect x="109.2" y="460.2" width="4.4" height="4.4"/><rect x="110.0" y="460.1" width="4.4" height="4.4"/><rect x="110.7" y="460.0" width="4.4" height="4.4"/><rect x="111.4" y="459.5" width="4.4" height="4.4"/><rect x="112.2" y="459.5" width="4.4" height="4.4"/><rect x="112.9" y="460.4" width="4.4" height="4.4"/><rect x="113.7" y="461.4" width="4.4" height="4.4"/><rect x="114.4" y="459.2" width="4.4" height="4.4"/><rect x="115.2" y="460.2" width="4.4" height="4.4"/><rect x="115.9" y="459.5" width="4.4" height="4.4"/><rect x="116.7" y="460.4" width="4.4" height="4.4"/><rect x="117.4" y="460.1" width="4.4" height="4.4"/><rect x="118.2" y="460.6" width="4.4" height="4.4"/><rect x="118.9" y="457.7" width="4.4" height="4.4"/><rect x="119.6" y="459.3" width="4.4" height="4.4"/><rect x="120.4" y="459.1" width="4.4" height="4.4"/><rect x="121.1" y="459.7" width="4.4" height="4.4"/><rect x="121.9" y="459.3" width="4.4" height="4.4"/><rect x="122.6" y="459.3" width="4.4" height="4.4"/><rect x="123.4" y="460.3" width="4.4" height="4.4"/><rect x="124.1" y="461.2" width="4.4" height="4.4"/><rect x="124.9" y="457.7" width="4.4" height="4.4"/><rect x="125.6" y="459.6" width="4.4" height="4.4"/><rect x="126.3" y="460.0" width="4.4" height="4.4"/><rect x="127.1" y="459.8" width="4.4" height="4.4"/><rect x="127.8" y="459.5" width="4.4" height="4.4"/><rect x="128.6" y="458.8" width="4.4" height="4.4"/><rect x="129.3" y="459.1" width="4.4" height="4.4"/><rect x="130.1" y="460.3" width="4.4" height="4.4"/><rect x="130.8" y="460.6" width="4.4" height="4.4"/><rect x="131.6" y="459.9" width="4.4" height="4.4"/><rect x="132.3" y="459.2" width="4.4" height="4.4"/><rect x="133.1" y="459.9" width="4.4" height="4.4"/><rect x="133.8" y="459.6" width="4.4" height="4.4"/><rect x="134.5" y="460.2" width="4.4" height="4.4"/><rect x="135.3" y="459.9" width="4.4" height="4.4"/><rect x="136.0" y="459.3" width="4.4" height="4.4"/><rect x="136.8" y="459.9" width="4.4" height="4.4"/><rect x="137.5" y="458.9" width="4.4" height="4.4"/><rect x="138.3" y="460.4" width="4.4" height="4.4"/><rect x="139.0" y="460.7" width="4.4" height="4.4"/><rect x="139.8" y="458.9" width="4.4" height="4.4"/><rect x="140.5" y="460.1" width="4.4" height="4.4"/><rect x="141.2" y="459.1" width="4.4" height="4.4"/><rect x="142.0" y="460.6" width="4.4" height="4.4"/><rect x="142.7" y="460.5" width="4.4" height="4.4"/><rect x="143.5" y="459.6" width="4.4" height="4.4"/><rect x="144.2" y="460.5" width="4.4" height="4.4"/><rect x="145.0" y="459.5" width="4.4" height="4.4"/><rect x="145.7" y="459.3" width="4.4" height="4.4"/><rect x="146.5" y="459.4" width="4.4" height="4.4"/><rect x="147.2" y="459.7" width="4.4" height="4.4"/><rect x="148.0" y="459.6" width="4.4" height="4.4"/><rect x="148.7" y="459.9" width="4.4" height="4.4"/><rect x="149.4" y="459.3" width="4.4" height="4.4"/><rect x="150.2" y="460.3" width="4.4" height="4.4"/><rect x="150.9" y="460.5" width="4.4" height="4.4"/><rect x="151.7" y="459.4" width="4.4" height="4.4"/><rect x="152.4" y="458.7" width="4.4" height="4.4"/><rect x="153.2" y="460.3" width="4.4" height="4.4"/><rect x="153.9" y="460.6" width="4.4" height="4.4"/><rect x="154.7" y="459.6" width="4.4" height="4.4"/><rect x="155.4" y="458.8" width="4.4" height="4.4"/><rect x="156.1" y="459.9" width="4.4" height="4.4"/><rect x="156.9" y="460.9" width="4.4" height="4.4"/><rect x="157.6" y="458.3" width="4.4" height="4.4"/><rect x="158.4" y="460.1" width="4.4" height="4.4"/><rect x="159.1" y="459.5" width="4.4" height="4.4"/><rect x="159.9" y="459.0" width="4.4" height="4.4"/><rect x="160.6" y="460.0" width="4.4" height="4.4"/><rect x="161.4" y="458.7" width="4.4" height="4.4"/><rect x="162.1" y="459.9" width="4.4" height="4.4"/><rect x="162.9" y="460.6" width="4.4" height="4.4"/><rect x="163.6" y="459.8" width="4.4" height="4.4"/><rect x="164.3" y="459.0" width="4.4" height="4.4"/><rect x="165.1" y="458.3" width="4.4" height="4.4"/><rect x="165.8" y="458.7" width="4.4" height="4.4"/><rect x="166.6" y="458.2" width="4.4" height="4.4"/><rect x="167.3" y="460.8" width="4.4" height="4.4"/><rect x="168.1" y="459.4" width="4.4" height="4.4"/><rect x="168.8" y="458.7" width="4.4" height="4.4"/><rect x="169.6" y="458.4" width="4.4" height="4.4"/><rect x="170.3" y="458.5" width="4.4" height="4.4"/><rect x="171.0" y="458.9" width="4.4" height="4.4"/><rect x="171.8" y="458.1" width="4.4" height="4.4"/><rect x="172.5" y="460.2" width="4.4" height="4.4"/><rect x="173.3" y="458.3" width="4.4" height="4.4"/><rect x="174.0" y="458.2" width="4.4" height="4.4"/><rect x="174.8" y="458.9" width="4.4" height="4.4"/><rect x="175.5" y="459.7" width="4.4" height="4.4"/><rect x="176.3" y="459.5" width="4.4" height="4.4"/><rect x="177.0" y="458.0" width="4.4" height="4.4"/><rect x="177.8" y="458.5" width="4.4" height="4.4"/><rect x="178.5" y="458.2" width="4.4" height="4.4"/><rect x="179.2" y="458.2" width="4.4" height="4.4"/><rect x="180.0" y="457.7" width="4.4" height="4.4"/><rect x="180.7" y="456.5" width="4.4" height="4.4"/><rect x="181.5" y="456.0" width="4.4" height="4.4"/><rect x="182.2" y="456.8" width="4.4" height="4.4"/><rect x="183.0" y="455.5" width="4.4" height="4.4"/><rect x="183.7" y="457.1" width="4.4" height="4.4"/><rect x="184.5" y="455.8" width="4.4" height="4.4"/><rect x="185.2" y="454.7" width="4.4" height="4.4"/><rect x="185.9" y="455.0" width="4.4" height="4.4"/><rect x="186.7" y="454.6" width="4.4" height="4.4"/><rect x="187.4" y="454.1" width="4.4" height="4.4"/><rect x="188.2" y="453.7" width="4.4" height="4.4"/><rect x="188.9" y="450.6" width="4.4" height="4.4"/><rect x="189.7" y="449.1" width="4.4" height="4.4"/><rect x="190.4" y="449.5" width="4.4" height="4.4"/><rect x="191.2" y="447.8" width="4.4" height="4.4"/><rect x="191.9" y="446.8" width="4.4" height="4.4"/><rect x="192.7" y="445.8" width="4.4" height="4.4"/><rect x="193.4" y="443.1" width="4.4" height="4.4"/><rect x="194.1" y="441.4" width="4.4" height="4.4"/><rect x="194.9" y="437.6" width="4.4" height="4.4"/><rect x="195.6" y="435.9" width="4.4" height="4.4"/><rect x="196.4" y="427.1" width="4.4" height="4.4"/><rect x="197.1" y="419.1" width="4.4" height="4.4"/><rect x="197.9" y="412.0" width="4.4" height="4.4"/><rect x="198.6" y="402.2" width="4.4" height="4.4"/><rect x="199.4" y="393.6" width="4.4" height="4.4"/><rect x="200.1" y="389.1" width="4.4" height="4.4"/><rect x="200.8" y="384.4" width="4.4" height="4.4"/><rect x="201.6" y="378.0" width="4.4" height="4.4"/><rect x="202.3" y="369.9" width="4.4" height="4.4"/><rect x="203.1" y="365.0" width="4.4" height="4.4"/><rect x="203.8" y="360.1" width="4.4" height="4.4"/><rect x="204.6" y="360.1" width="4.4" height="4.4"/><rect x="205.3" y="363.6" width="4.4" height="4.4"/><rect x="206.1" y="373.1" width="4.4" height="4.4"/><rect x="206.8" y="381.8" width="4.4" height="4.4"/><rect x="207.6" y="386.7" width="4.4" height="4.4"/><rect x="208.3" y="379.4" width="4.4" height="4.4"/><rect x="209.0" y="374.3" width="4.4" height="4.4"/><rect x="209.8" y="368.4" width="4.4" height="4.4"/><rect x="210.5" y="352.2" width="4.4" height="4.4"/><rect x="211.3" y="337.8" width="4.4" height="4.4"/><rect x="212.0" y="307.1" width="4.4" height="4.4"/><rect x="212.8" y="269.4" width="4.4" height="4.4"/><rect x="213.5" y="251.0" width="4.4" height="4.4"/><rect x="214.3" y="232.2" width="4.4" height="4.4"/><rect x="215.0" y="216.4" width="4.4" height="4.4"/><rect x="215.7" y="227.8" width="4.4" height="4.4"/><rect x="216.5" y="231.4" width="4.4" height="4.4"/><rect x="217.2" y="246.9" width="4.4" height="4.4"/><rect x="218.0" y="273.3" width="4.4" height="4.4"/><rect x="218.7" y="294.6" width="4.4" height="4.4"/><rect x="219.5" y="308.0" width="4.4" height="4.4"/><rect x="220.2" y="334.2" width="4.4" height="4.4"/><rect x="221.0" y="365.0" width="4.4" height="4.4"/><rect x="221.7" y="385.5" width="4.4" height="4.4"/><rect x="222.5" y="399.9" width="4.4" height="4.4"/><rect x="223.2" y="407.4" width="4.4" height="4.4"/><rect x="223.9" y="422.5" width="4.4" height="4.4"/><rect x="224.7" y="433.4" width="4.4" height="4.4"/><rect x="225.4" y="439.2" width="4.4" height="4.4"/><rect x="226.2" y="445.8" width="4.4" height="4.4"/><rect x="226.9" y="448.5" width="4.4" height="4.4"/><rect x="227.7" y="451.6" width="4.4" height="4.4"/><rect x="228.4" y="454.3" width="4.4" height="4.4"/><rect x="229.2" y="455.7" width="4.4" height="4.4"/><rect x="229.9" y="458.4" width="4.4" height="4.4"/><rect x="230.6" y="458.0" width="4.4" height="4.4"/><rect x="231.4" y="458.8" width="4.4" height="4.4"/><rect x="232.1" y="458.4" width="4.4" height="4.4"/><rect x="232.9" y="458.5" width="4.4" height="4.4"/><rect x="233.6" y="459.1" width="4.4" height="4.4"/><rect x="234.4" y="460.5" width="4.4" height="4.4"/><rect x="235.1" y="459.0" width="4.4" height="4.4"/><rect x="235.9" y="460.5" width="4.4" height="4.4"/><rect x="236.6" y="460.5" width="4.4" height="4.4"/><rect x="237.4" y="459.0" width="4.4" height="4.4"/><rect x="238.1" y="460.1" width="4.4" height="4.4"/><rect x="238.8" y="458.5" width="4.4" height="4.4"/><rect x="239.6" y="458.7" width="4.4" height="4.4"/><rect x="240.3" y="457.2" width="4.4" height="4.4"/><rect x="241.1" y="457.5" width="4.4" height="4.4"/><rect x="241.8" y="455.6" width="4.4" height="4.4"/><rect x="242.6" y="456.2" width="4.4" height="4.4"/><rect x="243.3" y="454.8" width="4.4" height="4.4"/><rect x="244.1" y="453.9" width="4.4" height="4.4"/><rect x="244.8" y="453.3" width="4.4" height="4.4"/><rect x="245.5" y="451.9" width="4.4" height="4.4"/><rect x="246.3" y="450.5" width="4.4" height="4.4"/><rect x="247.0" y="450.0" width="4.4" height="4.4"/><rect x="247.8" y="448.9" width="4.4" height="4.4"/><rect x="248.5" y="445.7" width="4.4" height="4.4"/><rect x="249.3" y="445.3" width="4.4" height="4.4"/><rect x="250.0" y="443.5" width="4.4" height="4.4"/><rect x="250.8" y="440.6" width="4.4" height="4.4"/><rect x="251.5" y="438.6" width="4.4" height="4.4"/><rect x="252.3" y="434.3" width="4.4" height="4.4"/><rect x="253.0" y="433.6" width="4.4" height="4.4"/><rect x="253.7" y="430.1" width="4.4" height="4.4"/><rect x="254.5" y="428.0" width="4.4" height="4.4"/><rect x="255.2" y="426.7" width="4.4" height="4.4"/><rect x="256.0" y="424.8" width="4.4" height="4.4"/><rect x="256.7" y="426.6" width="4.4" height="4.4"/><rect x="257.5" y="426.7" width="4.4" height="4.4"/><rect x="258.2" y="428.3" width="4.4" height="4.4"/><rect x="259.0" y="429.0" width="4.4" height="4.4"/><rect x="259.7" y="431.2" width="4.4" height="4.4"/><rect x="260.4" y="433.6" width="4.4" height="4.4"/><rect x="261.2" y="434.4" width="4.4" height="4.4"/><rect x="261.9" y="436.4" width="4.4" height="4.4"/><rect x="262.7" y="434.1" width="4.4" height="4.4"/><rect x="263.4" y="432.1" width="4.4" height="4.4"/><rect x="264.2" y="430.4" width="4.4" height="4.4"/><rect x="264.9" y="429.1" width="4.4" height="4.4"/><rect x="265.7" y="426.4" width="4.4" height="4.4"/><rect x="266.4" y="422.7" width="4.4" height="4.4"/><rect x="267.2" y="419.8" width="4.4" height="4.4"/><rect x="267.9" y="412.8" width="4.4" height="4.4"/><rect x="268.6" y="407.8" width="4.4" height="4.4"/><rect x="269.4" y="406.2" width="4.4" height="4.4"/><rect x="270.1" y="402.1" width="4.4" height="4.4"/><rect x="270.9" y="405.2" width="4.4" height="4.4"/><rect x="271.6" y="409.3" width="4.4" height="4.4"/><rect x="272.4" y="412.1" width="4.4" height="4.4"/><rect x="273.1" y="418.4" width="4.4" height="4.4"/><rect x="273.9" y="428.0" width="4.4" height="4.4"/><rect x="274.6" y="435.5" width="4.4" height="4.4"/><rect x="275.3" y="437.5" width="4.4" height="4.4"/><rect x="276.1" y="443.2" width="4.4" height="4.4"/><rect x="276.8" y="445.9" width="4.4" height="4.4"/><rect x="277.6" y="450.5" width="4.4" height="4.4"/><rect x="278.3" y="451.5" width="4.4" height="4.4"/><rect x="279.1" y="452.5" width="4.4" height="4.4"/><rect x="279.8" y="453.3" width="4.4" height="4.4"/><rect x="280.6" y="456.0" width="4.4" height="4.4"/><rect x="281.3" y="456.5" width="4.4" height="4.4"/><rect x="282.1" y="456.3" width="4.4" height="4.4"/><rect x="282.8" y="456.0" width="4.4" height="4.4"/><rect x="283.5" y="456.6" width="4.4" height="4.4"/><rect x="284.3" y="458.0" width="4.4" height="4.4"/><rect x="285.0" y="458.4" width="4.4" height="4.4"/><rect x="285.8" y="458.5" width="4.4" height="4.4"/><rect x="286.5" y="458.4" width="4.4" height="4.4"/><rect x="287.3" y="457.2" width="4.4" height="4.4"/><rect x="288.0" y="458.7" width="4.4" height="4.4"/><rect x="288.8" y="458.0" width="4.4" height="4.4"/><rect x="289.5" y="458.8" width="4.4" height="4.4"/><rect x="290.2" y="459.2" width="4.4" height="4.4"/><rect x="291.0" y="458.5" width="4.4" height="4.4"/><rect x="291.7" y="458.3" width="4.4" height="4.4"/><rect x="292.5" y="459.9" width="4.4" height="4.4"/><rect x="293.2" y="459.5" width="4.4" height="4.4"/><rect x="294.0" y="458.7" width="4.4" height="4.4"/><rect x="294.7" y="456.9" width="4.4" height="4.4"/><rect x="295.5" y="459.1" width="4.4" height="4.4"/><rect x="296.2" y="459.5" width="4.4" height="4.4"/><rect x="297.0" y="459.9" width="4.4" height="4.4"/><rect x="297.7" y="458.5" width="4.4" height="4.4"/><rect x="298.4" y="458.5" width="4.4" height="4.4"/><rect x="299.2" y="458.6" width="4.4" height="4.4"/><rect x="299.9" y="459.5" width="4.4" height="4.4"/><rect x="300.7" y="457.9" width="4.4" height="4.4"/><rect x="301.4" y="458.8" width="4.4" height="4.4"/><rect x="302.2" y="458.3" width="4.4" height="4.4"/><rect x="302.9" y="459.3" width="4.4" height="4.4"/><rect x="303.7" y="458.0" width="4.4" height="4.4"/><rect x="304.4" y="459.5" width="4.4" height="4.4"/><rect x="305.1" y="459.0" width="4.4" height="4.4"/><rect x="305.9" y="459.3" width="4.4" height="4.4"/><rect x="306.6" y="459.9" width="4.4" height="4.4"/><rect x="307.4" y="460.5" width="4.4" height="4.4"/><rect x="308.1" y="458.4" width="4.4" height="4.4"/><rect x="308.9" y="460.5" width="4.4" height="4.4"/><rect x="309.6" y="460.1" width="4.4" height="4.4"/><rect x="310.4" y="459.5" width="4.4" height="4.4"/><rect x="311.1" y="460.8" width="4.4" height="4.4"/><rect x="311.9" y="459.8" width="4.4" height="4.4"/><rect x="312.6" y="460.7" width="4.4" height="4.4"/><rect x="313.3" y="459.3" width="4.4" height="4.4"/><rect x="314.1" y="459.0" width="4.4" height="4.4"/><rect x="314.8" y="460.6" width="4.4" height="4.4"/><rect x="315.6" y="461.3" width="4.4" height="4.4"/><rect x="316.3" y="460.2" width="4.4" height="4.4"/><rect x="317.1" y="460.4" width="4.4" height="4.4"/><rect x="317.8" y="459.3" width="4.4" height="4.4"/><rect x="318.6" y="458.7" width="4.4" height="4.4"/><rect x="319.3" y="459.5" width="4.4" height="4.4"/><rect x="320.0" y="460.8" width="4.4" height="4.4"/><rect x="320.8" y="458.3" width="4.4" height="4.4"/><rect x="321.5" y="459.3" width="4.4" height="4.4"/><rect x="322.3" y="458.3" width="4.4" height="4.4"/><rect x="323.0" y="459.8" width="4.4" height="4.4"/><rect x="323.8" y="460.4" width="4.4" height="4.4"/><rect x="324.5" y="458.8" width="4.4" height="4.4"/><rect x="325.3" y="459.4" width="4.4" height="4.4"/><rect x="326.0" y="460.7" width="4.4" height="4.4"/><rect x="326.8" y="459.6" width="4.4" height="4.4"/><rect x="327.5" y="458.8" width="4.4" height="4.4"/><rect x="328.2" y="458.7" width="4.4" height="4.4"/><rect x="329.0" y="458.2" width="4.4" height="4.4"/><rect x="329.7" y="460.2" width="4.4" height="4.4"/><rect x="330.5" y="459.1" width="4.4" height="4.4"/><rect x="331.2" y="460.4" width="4.4" height="4.4"/><rect x="332.0" y="460.3" width="4.4" height="4.4"/><rect x="332.7" y="459.1" width="4.4" height="4.4"/><rect x="333.5" y="459.2" width="4.4" height="4.4"/><rect x="334.2" y="460.2" width="4.4" height="4.4"/><rect x="334.9" y="459.7" width="4.4" height="4.4"/><rect x="335.7" y="459.7" width="4.4" height="4.4"/><rect x="336.4" y="458.3" width="4.4" height="4.4"/><rect x="337.2" y="460.2" width="4.4" height="4.4"/><rect x="337.9" y="458.8" width="4.4" height="4.4"/><rect x="338.7" y="457.8" width="4.4" height="4.4"/><rect x="339.4" y="459.0" width="4.4" height="4.4"/><rect x="340.2" y="459.8" width="4.4" height="4.4"/><rect x="340.9" y="461.0" width="4.4" height="4.4"/><rect x="341.7" y="459.1" width="4.4" height="4.4"/><rect x="342.4" y="458.4" width="4.4" height="4.4"/><rect x="343.1" y="461.0" width="4.4" height="4.4"/><rect x="343.9" y="459.5" width="4.4" height="4.4"/><rect x="344.6" y="459.2" width="4.4" height="4.4"/><rect x="345.4" y="458.5" width="4.4" height="4.4"/><rect x="346.1" y="458.6" width="4.4" height="4.4"/><rect x="346.9" y="460.4" width="4.4" height="4.4"/><rect x="347.6" y="459.1" width="4.4" height="4.4"/><rect x="348.4" y="458.9" width="4.4" height="4.4"/><rect x="349.1" y="458.9" width="4.4" height="4.4"/><rect x="349.8" y="460.5" width="4.4" height="4.4"/><rect x="350.6" y="458.9" width="4.4" height="4.4"/><rect x="351.3" y="459.8" width="4.4" height="4.4"/><rect x="352.1" y="459.6" width="4.4" height="4.4"/><rect x="352.8" y="459.6" width="4.4" height="4.4"/><rect x="353.6" y="458.7" width="4.4" height="4.4"/><rect x="354.3" y="459.9" width="4.4" height="4.4"/><rect x="355.1" y="460.6" width="4.4" height="4.4"/><rect x="355.8" y="459.4" width="4.4" height="4.4"/><rect x="356.6" y="458.8" width="4.4" height="4.4"/><rect x="357.3" y="458.5" width="4.4" height="4.4"/><rect x="358.0" y="459.6" width="4.4" height="4.4"/><rect x="358.8" y="459.3" width="4.4" height="4.4"/><rect x="359.5" y="459.4" width="4.4" height="4.4"/><rect x="360.3" y="459.5" width="4.4" height="4.4"/><rect x="361.0" y="458.4" width="4.4" height="4.4"/><rect x="361.8" y="460.1" width="4.4" height="4.4"/><rect x="362.5" y="459.7" width="4.4" height="4.4"/><rect x="363.3" y="459.5" width="4.4" height="4.4"/><rect x="364.0" y="459.7" width="4.4" height="4.4"/><rect x="364.7" y="460.3" width="4.4" height="4.4"/><rect x="365.5" y="459.6" width="4.4" height="4.4"/><rect x="366.2" y="459.0" width="4.4" height="4.4"/><rect x="367.0" y="460.5" width="4.4" height="4.4"/><rect x="367.7" y="459.3" width="4.4" height="4.4"/><rect x="368.5" y="459.1" width="4.4" height="4.4"/><rect x="369.2" y="458.5" width="4.4" height="4.4"/><rect x="370.0" y="459.7" width="4.4" height="4.4"/><rect x="370.7" y="458.9" width="4.4" height="4.4"/><rect x="371.5" y="459.3" width="4.4" height="4.4"/><rect x="372.2" y="460.0" width="4.4" height="4.4"/><rect x="372.9" y="459.7" width="4.4" height="4.4"/><rect x="373.7" y="460.5" width="4.4" height="4.4"/><rect x="374.4" y="460.0" width="4.4" height="4.4"/><rect x="375.2" y="459.5" width="4.4" height="4.4"/><rect x="375.9" y="459.5" width="4.4" height="4.4"/><rect x="376.7" y="459.4" width="4.4" height="4.4"/><rect x="377.4" y="460.3" width="4.4" height="4.4"/><rect x="378.2" y="459.8" width="4.4" height="4.4"/><rect x="378.9" y="459.5" width="4.4" height="4.4"/><rect x="379.6" y="460.4" width="4.4" height="4.4"/><rect x="380.4" y="459.9" width="4.4" height="4.4"/><rect x="381.1" y="459.5" width="4.4" height="4.4"/><rect x="381.9" y="458.7" width="4.4" height="4.4"/><rect x="382.6" y="460.2" width="4.4" height="4.4"/><rect x="383.4" y="460.0" width="4.4" height="4.4"/><rect x="384.1" y="459.9" width="4.4" height="4.4"/><rect x="384.9" y="459.5" width="4.4" height="4.4"/><rect x="385.6" y="459.2" width="4.4" height="4.4"/><rect x="386.4" y="459.7" width="4.4" height="4.4"/><rect x="387.1" y="460.0" width="4.4" height="4.4"/><rect x="387.8" y="459.8" width="4.4" height="4.4"/><rect x="388.6" y="459.7" width="4.4" height="4.4"/><rect x="389.3" y="459.5" width="4.4" height="4.4"/><rect x="390.1" y="460.1" width="4.4" height="4.4"/><rect x="390.8" y="460.0" width="4.4" height="4.4"/><rect x="391.6" y="459.3" width="4.4" height="4.4"/><rect x="392.3" y="460.4" width="4.4" height="4.4"/><rect x="393.1" y="460.5" width="4.4" height="4.4"/><rect x="393.8" y="460.5" width="4.4" height="4.4"/><rect x="394.5" y="459.8" width="4.4" height="4.4"/><rect x="395.3" y="459.7" width="4.4" height="4.4"/><rect x="396.0" y="459.0" width="4.4" height="4.4"/><rect x="396.8" y="460.5" width="4.4" height="4.4"/><rect x="397.5" y="458.3" width="4.4" height="4.4"/><rect x="398.3" y="459.6" width="4.4" height="4.4"/><rect x="399.0" y="459.7" width="4.4" height="4.4"/><rect x="399.8" y="460.6" width="4.4" height="4.4"/><rect x="400.5" y="459.9" width="4.4" height="4.4"/><rect x="401.3" y="459.2" width="4.4" height="4.4"/><rect x="402.0" y="458.9" width="4.4" height="4.4"/><rect x="402.7" y="459.4" width="4.4" height="4.4"/><rect x="403.5" y="460.0" width="4.4" height="4.4"/><rect x="404.2" y="460.0" width="4.4" height="4.4"/><rect x="405.0" y="459.8" width="4.4" height="4.4"/><rect x="405.7" y="459.4" width="4.4" height="4.4"/><rect x="406.5" y="459.8" width="4.4" height="4.4"/><rect x="407.2" y="460.7" width="4.4" height="4.4"/><rect x="408.0" y="459.1" width="4.4" height="4.4"/><rect x="408.7" y="460.0" width="4.4" height="4.4"/><rect x="409.4" y="461.2" width="4.4" height="4.4"/><rect x="410.2" y="460.4" width="4.4" height="4.4"/><rect x="410.9" y="459.6" width="4.4" height="4.4"/><rect x="411.7" y="460.5" width="4.4" height="4.4"/><rect x="412.4" y="459.4" width="4.4" height="4.4"/><rect x="413.2" y="460.0" width="4.4" height="4.4"/><rect x="413.9" y="461.1" width="4.4" height="4.4"/></g>
</g>
<g id="frame" fill="none" stroke="#000" stroke-width="1.3">
<path d="M420 194.3H98.9V473.0H420"/>
<path d="M165.3 473.0v-6M165.3 194.3v6"/><path d="M253.6 473.0v-6M253.6 194.3v6"/><path d="M342.0 473.0v-6M342.0 194.3v6"/><path d="M121.0 473.0v-4M121.0 194.3v4"/><path d="M209.4 473.0v-4M209.4 194.3v4"/><path d="M297.7 473.0v-4M297.7 194.3v4"/><path d="M386.1 473.0v-4M386.1 194.3v4"/><path d="M98.9 218.6h6"/><path d="M98.9 339.6h6"/><path d="M98.9 460.6h6"/><path d="M98.9 279.1h3.5"/><path d="M98.9 400.1h3.5"/>
</g>
<g id="ticklabels" font-size="16.4" fill="#000">
<text transform="translate(93.4 223.2) scale(1 1.025)" text-anchor="end">1.0</text>
<text transform="translate(93.4 344.2) scale(1 1.025)" text-anchor="end">0.5</text>
<text transform="translate(93.4 465.2) scale(1 1.025)" text-anchor="end">0.0</text>
<text transform="translate(165.5 492.2) scale(1 1.025)" text-anchor="middle">738</text>
<text transform="translate(253.6 492.2) scale(1 1.025)" text-anchor="middle">740</text>
<text transform="translate(341.8 492.2) scale(1 1.025)" text-anchor="middle">742</text>
</g>
<text transform="translate(287.4 520.7) scale(1 1.025)" font-size="19.7" text-anchor="middle">Wavelength (nm)</text>
<text transform="translate(59.0 346.0) rotate(-90) scale(1.012 1)" font-size="19.7" text-anchor="middle">Intensity (a.u.)</text>
<g id="legend">
<rect x="345.4" y="206.7" width="80" height="36.2" fill="#fff" stroke="#444" stroke-width="0.9"/>
<path d="M359.5 216.6H390.3M359.5 233.2H390.3" stroke="#000" stroke-width="1.1"/>
<path d="M375.4 213.3l2.9 5.6h-5.8z" fill="#f00"/>
<rect x="373.2" y="230.9" width="4.5" height="4.5" fill="#00f"/>
<text x="391.2" y="221.5" font-size="14.2" word-spacing="-1.8">T= 200 K</text>
<text x="391.2" y="238.1" font-size="14.2" word-spacing="-1.8">T= 300 K</text>
</g>
<g id="inset">
<rect x="340.8" y="246.8" width="90" height="96.4" fill="#fff"/>
<g fill="#000"><rect x="340.5" y="268.2" width="2.1" height="2.1"/><rect x="342.4" y="273.0" width="2.1" height="2.1"/><rect x="344.1" y="263.2" width="2.1" height="2.1"/><rect x="346.5" y="270.6" width="2.1" height="2.1"/><rect x="349.0" y="263.9" width="2.1" height="2.1"/><rect x="351.3" y="263.6" width="2.1" height="2.1"/><rect x="353.8" y="263.2" width="2.1" height="2.1"/><rect x="356.2" y="263.6" width="2.1" height="2.1"/><rect x="359.3" y="273.5" width="2.1" height="2.1"/><rect x="361.5" y="265.8" width="2.1" height="2.1"/><rect x="363.4" y="271.1" width="2.1" height="2.1"/><rect x="365.3" y="264.6" width="2.1" height="2.1"/><rect x="367.5" y="264.4" width="2.1" height="2.1"/><rect x="369.4" y="269.2" width="2.1" height="2.1"/><rect x="371.3" y="274.0" width="2.1" height="2.1"/><rect x="373.5" y="262.2" width="2.1" height="2.1"/><rect x="375.7" y="265.1" width="2.1" height="2.1"/><rect x="377.6" y="258.3" width="2.1" height="2.1"/><rect x="379.8" y="275.4" width="2.1" height="2.1"/><rect x="382.2" y="259.3" width="2.1" height="2.1"/><rect x="383.9" y="271.6" width="2.1" height="2.1"/><rect x="386.3" y="272.3" width="2.1" height="2.1"/><rect x="388.2" y="281.5" width="2.1" height="2.1"/><rect x="390.6" y="271.6" width="2.1" height="2.1"/><rect x="392.3" y="275.9" width="2.1" height="2.1"/><rect x="394.7" y="285.6" width="2.1" height="2.1"/><rect x="397.1" y="287.0" width="2.1" height="2.1"/><rect x="398.8" y="289.2" width="2.1" height="2.1"/><rect x="400.3" y="280.8" width="2.1" height="2.1"/><rect x="402.4" y="284.9" width="2.1" height="2.1"/><rect x="404.4" y="297.8" width="2.1" height="2.1"/><rect x="406.8" y="308.4" width="2.1" height="2.1"/><rect x="409.2" y="321.2" width="2.1" height="2.1"/><rect x="411.6" y="323.6" width="2.1" height="2.1"/><rect x="413.8" y="326.0" width="2.1" height="2.1"/></g>
<polyline points="340.8,263.7 350.0,263.9 360.0,264.2 368.0,264.7 375.2,265.6 381.0,267.1 387.3,269.8 391.0,272.6 394.5,276.8 397.0,281.6 399.3,287.3 402.5,294.6 404.8,299.6 407.4,309.0 409.8,318.3 412.2,324.6 415.1,329.4 418.0,332.5" fill="none" stroke="#f00" stroke-width="0.9"/>
<g fill="none" stroke="#555" stroke-width="0.8"><path d="M420 246.8H340.8V343.2H420"/><path d="M340.7 343.2v-1.6M340.7 246.8v1.6"/><path d="M357.0 343.2v-1.6M357.0 246.8v1.6"/><path d="M373.3 343.2v-1.6M373.3 246.8v1.6"/><path d="M389.6 343.2v-1.6M389.6 246.8v1.6"/><path d="M405.9 343.2v-1.6M405.9 246.8v1.6"/><path d="M340.8 343.2h1.6"/><path d="M340.8 323.9h1.6"/><path d="M340.8 304.6h1.6"/><path d="M340.8 285.4h1.6"/><path d="M340.8 266.1h1.6"/><path d="M340.8 246.8h1.6"/></g>
<g font-size="13.4" fill="#000">
<text x="339.2" y="250.7" text-anchor="end">1.2</text>
<text x="339.2" y="270.3" text-anchor="end">1.0</text>
<text x="339.2" y="289.6" text-anchor="end">0.8</text>
<text x="339.2" y="308.9" text-anchor="end">0.6</text>
<text x="339.2" y="328.3" text-anchor="end">0.4</text>
<text x="339.2" y="347.6" text-anchor="end">0.2</text>
<text x="340.1" y="356.0" text-anchor="middle">-4</text>
<text x="373.5" y="356.0" text-anchor="middle">-2</text>
<text x="406.1" y="356.0" text-anchor="middle">0</text>
</g>
<text x="388.8" y="376.8" font-size="11.8" font-family="Liberation Serif, serif">τ</text>
<text x="397.6" y="376.7" font-size="14.5">(ns)</text>
</g>
</svg>
</body></html>
